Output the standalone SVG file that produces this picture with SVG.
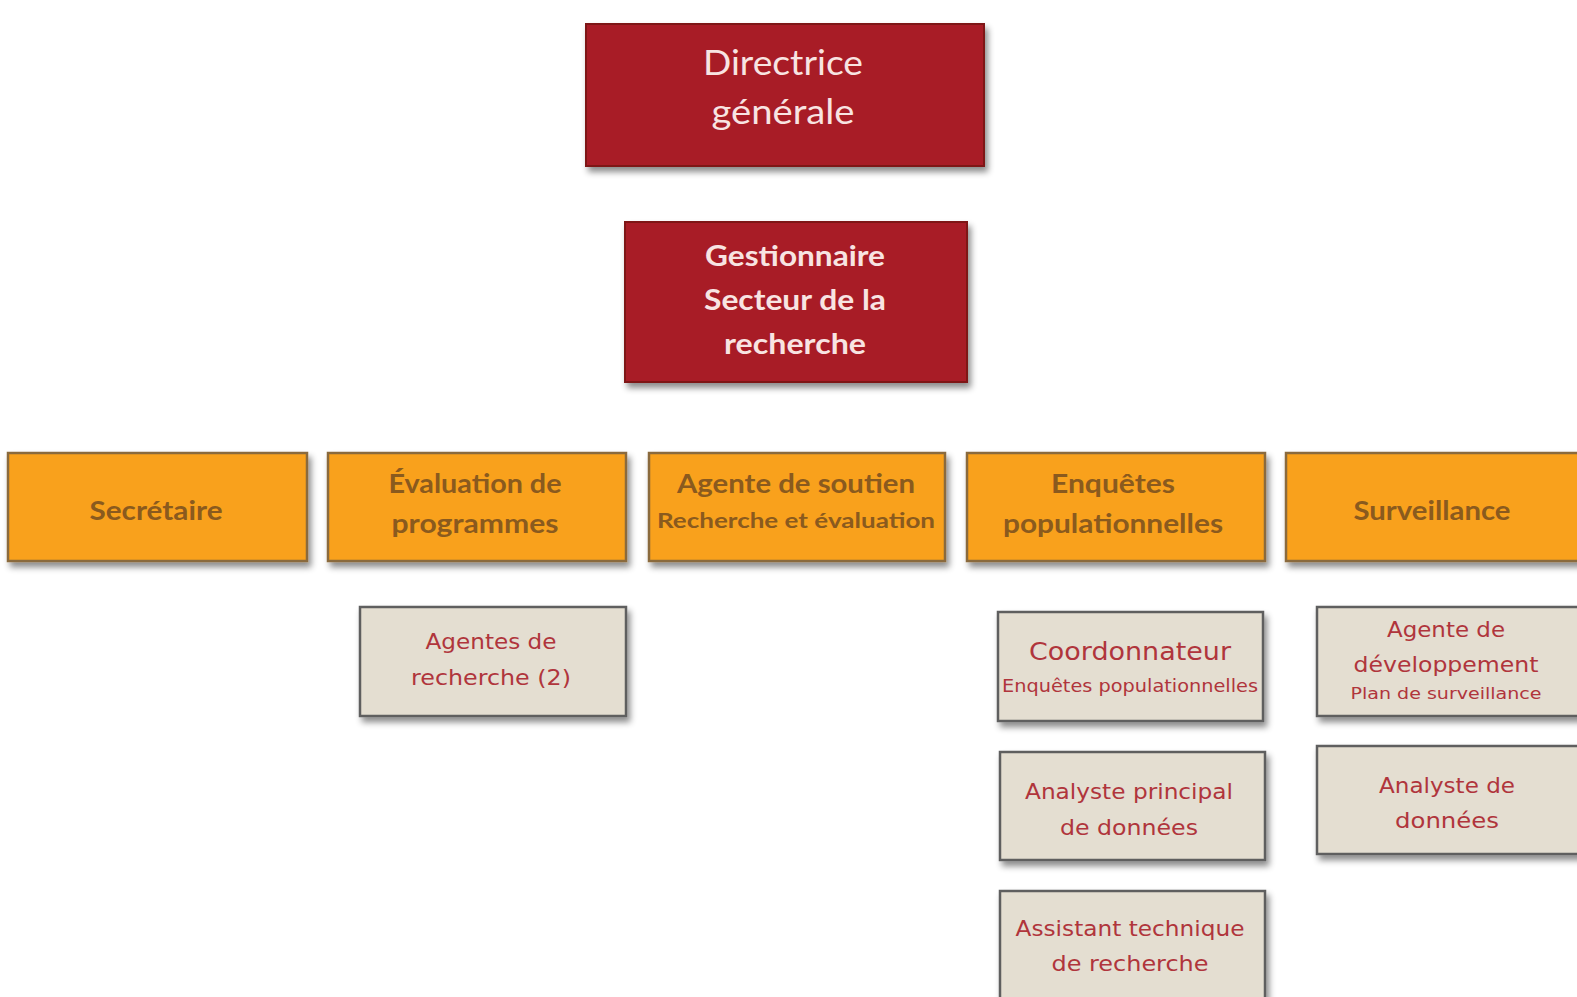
<svg xmlns="http://www.w3.org/2000/svg" width="1577" height="997" viewBox="0 0 1577 997">
<defs>
<filter id="sh" x="-10%" y="-10%" width="125%" height="130%">
<feDropShadow dx="3" dy="5" stdDeviation="3" flood-color="#000" flood-opacity="0.45"/>
</filter>
<style>
.red{fill:#A81E27;stroke:#7E1519;stroke-width:2;filter:url(#sh)}
.org{fill:#F9A11C;stroke:#8A6A3C;stroke-width:2.5;filter:url(#sh)}
.bei{fill:#E4DED1;stroke:#5F5F5F;stroke-width:2.5;filter:url(#sh)}
.tr{fill:#F8E4E2;font-family:Lato,"Open Sans",sans-serif;text-anchor:middle}
.to{fill:#8A5A1E;font-family:Lato,"Open Sans",sans-serif;font-weight:bold;text-anchor:middle}
.tb{fill:#B0353C;font-family:"DejaVu Sans","Noto Sans",sans-serif;text-anchor:middle}
</style>
</defs>
<g id="connectors"></g>
<g id="directrice">
<rect class="red" x="586" y="24" width="398" height="142"/>
<text class="tr" x="783" y="75" font-size="35" textLength="160" lengthAdjust="spacingAndGlyphs">Directrice</text>
<text class="tr" x="783" y="124" font-size="35" textLength="143" lengthAdjust="spacingAndGlyphs">générale</text>
</g>
<g id="gestionnaire">
<rect class="red" x="625" y="222" width="342" height="160"/>
<text class="tr" x="795" y="266" font-size="28" font-weight="bold" textLength="180" lengthAdjust="spacingAndGlyphs">Gestionnaire</text>
<text class="tr" x="795" y="310" font-size="28" font-weight="bold" textLength="182" lengthAdjust="spacingAndGlyphs">Secteur de la</text>
<text class="tr" x="795" y="354" font-size="28" font-weight="bold" textLength="142" lengthAdjust="spacingAndGlyphs">recherche</text>
</g>
<g id="secretaire">
<rect class="org" x="8" y="453" width="299" height="108"/>
<text class="to" x="156" y="520" font-size="26" textLength="133" lengthAdjust="spacingAndGlyphs">Secrétaire</text>
</g>
<g id="evaluation">
<rect class="org" x="328" y="453" width="298" height="108"/>
<text class="to" x="475" y="493" font-size="26" textLength="173" lengthAdjust="spacingAndGlyphs">Évaluation de</text>
<text class="to" x="475" y="533" font-size="26" textLength="167" lengthAdjust="spacingAndGlyphs">programmes</text>
</g>
<g id="agente-soutien">
<rect class="org" x="649" y="453" width="296" height="108"/>
<text class="to" x="796" y="493" font-size="26" textLength="238" lengthAdjust="spacingAndGlyphs">Agente de soutien</text>
<text class="to" x="796" y="528" font-size="21" textLength="278" lengthAdjust="spacingAndGlyphs">Recherche et évaluation</text>
</g>
<g id="enquetes">
<rect class="org" x="967" y="453" width="298" height="108"/>
<text class="to" x="1113" y="493" font-size="26" textLength="124" lengthAdjust="spacingAndGlyphs">Enquêtes</text>
<text class="to" x="1113" y="533" font-size="26" textLength="220" lengthAdjust="spacingAndGlyphs">populationnelles</text>
</g>
<g id="surveillance">
<rect class="org" x="1286" y="453" width="300" height="108"/>
<text class="to" x="1432" y="520" font-size="26" textLength="157" lengthAdjust="spacingAndGlyphs">Surveillance</text>
</g>
<g id="agentes-recherche">
<rect class="bei" x="360" y="607" width="266" height="109"/>
<text class="tb" x="491" y="649" font-size="22" textLength="131" lengthAdjust="spacingAndGlyphs">Agentes de</text>
<text class="tb" x="491" y="685" font-size="22" textLength="160" lengthAdjust="spacingAndGlyphs">recherche (2)</text>
</g>
<g id="coordonnateur">
<rect class="bei" x="998" y="612" width="265" height="109"/>
<text class="tb" x="1130" y="660" font-size="25" textLength="202" lengthAdjust="spacingAndGlyphs">Coordonnateur</text>
<text class="tb" x="1130" y="692" font-size="17" textLength="256" lengthAdjust="spacingAndGlyphs">Enquêtes populationnelles</text>
</g>
<g id="agente-developpement">
<rect class="bei" x="1317" y="607" width="268" height="109"/>
<text class="tb" x="1446" y="637" font-size="22" textLength="118" lengthAdjust="spacingAndGlyphs">Agente de</text>
<text class="tb" x="1446" y="672" font-size="22" textLength="185" lengthAdjust="spacingAndGlyphs">développement</text>
<text class="tb" x="1446" y="699" font-size="16" textLength="191" lengthAdjust="spacingAndGlyphs">Plan de surveillance</text>
</g>
<g id="analyste-principal">
<rect class="bei" x="1000" y="752" width="265" height="108"/>
<text class="tb" x="1129" y="799" font-size="22" textLength="208" lengthAdjust="spacingAndGlyphs">Analyste principal</text>
<text class="tb" x="1129" y="835" font-size="22" textLength="138" lengthAdjust="spacingAndGlyphs">de données</text>
</g>
<g id="analyste-donnees">
<rect class="bei" x="1317" y="746" width="268" height="108"/>
<text class="tb" x="1447" y="793" font-size="22" textLength="136" lengthAdjust="spacingAndGlyphs">Analyste de</text>
<text class="tb" x="1447" y="828" font-size="22" textLength="104" lengthAdjust="spacingAndGlyphs">données</text>
</g>
<g id="assistant-technique">
<rect class="bei" x="1000" y="891" width="265" height="120"/>
<text class="tb" x="1130" y="936" font-size="22" textLength="229" lengthAdjust="spacingAndGlyphs">Assistant technique</text>
<text class="tb" x="1130" y="971" font-size="22" textLength="157" lengthAdjust="spacingAndGlyphs">de recherche</text>
</g>
</svg>
